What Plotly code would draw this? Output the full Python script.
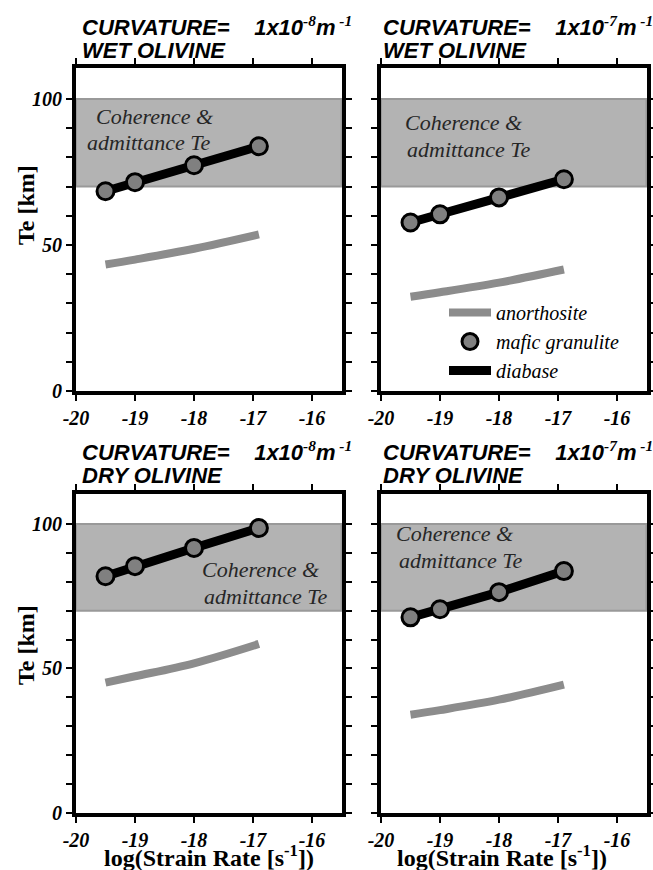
import plotly.graph_objects as go

W, H = 653, 870

# ---------------- data ----------------
strain_rate = [-19.5, -19.0, -18.0, -16.9]
x_ticks = [-20, -19, -18, -17, -16]
y_ticks = [0, 10, 20, 30, 40, 50, 60, 70, 80, 90, 100]
y_ticklabels = ["0", "", "", "", "", "50", "", "", "", "", "100"]

diabase_wet_e8 = [68.4, 71.5, 77.3, 83.8]
diabase_wet_e7 = [57.7, 60.5, 66.3, 72.5]
diabase_dry_e8 = [81.9, 85.4, 91.7, 98.6]
diabase_dry_e7 = [67.7, 70.5, 76.4, 83.7]

anorth_wet_e8 = [43.3, 45.0, 48.7, 53.6]
anorth_wet_e7 = [32.3, 33.8, 37.1, 41.6]
anorth_dry_e8 = [45.1, 47.3, 51.8, 58.5]
anorth_dry_e7 = [34.0, 35.6, 39.2, 44.4]

te_band = [70, 100]  # coherence & admittance Te range

panels = [
    dict(exp="-8", olivine="WET OLIVINE", dia=diabase_wet_e8, ano=anorth_wet_e8),
    dict(exp="-7", olivine="WET OLIVINE", dia=diabase_wet_e7, ano=anorth_wet_e7),
    dict(exp="-8", olivine="DRY OLIVINE", dia=diabase_dry_e8, ano=anorth_dry_e8),
    dict(exp="-7", olivine="DRY OLIVINE", dia=diabase_dry_e7, ano=anorth_dry_e7),
]

# ---------------- layout geometry (pixels) ----------------
X_RANGE = [-20, -15.5]
Y_RANGE = [0, 110.5]
col_x = [(76, 341.5), (381, 646.5)]
row_y = [(68.3, 391), (493.6, 813)]
# band label line centres in pixels: (x1, y1, x2, y2)
band_text_px = [
    (155, 116.5, 148, 142),
    (464, 122.5, 468, 149),
    (261, 569.5, 265, 596.5),
    (455, 533.5, 460, 560.5),
]
title_x_px = [82, 383]
title_y_px = [(25.5, 50.0), (450.5, 475.5)]
ytitle_y_px = [205, 645]
xtitle_x_px = [209, 502]


def px_x(p):
    return p / W


def px_y(p):
    return 1 - p / H


def data_x(p, c):
    x0, x1 = col_x[c]
    return X_RANGE[0] + (p - x0) / (x1 - x0) * (X_RANGE[1] - X_RANGE[0])


def data_y(p, r):
    y0, y1 = row_y[r]
    return Y_RANGE[0] + (y1 - p) / (y1 - y0) * (Y_RANGE[1] - Y_RANGE[0])


SERIF = "Liberation Serif"
SANS = "Liberation Sans"

fig = go.Figure()
layout = dict(
    width=W, height=H, margin=dict(l=0, r=0, t=0, b=0, autoexpand=False),
    plot_bgcolor="white", paper_bgcolor="white",
    showlegend=True,
    shapes=[], annotations=[],
)

for i, p in enumerate(panels):
    r, c = divmod(i, 2)
    xa = "x" if i == 0 else f"x{i+1}"
    ya = "y" if i == 0 else f"y{i+1}"
    xkey = "xaxis" if i == 0 else f"xaxis{i+1}"
    ykey = "yaxis" if i == 0 else f"yaxis{i+1}"
    x0, x1 = col_x[c]
    y0, y1 = row_y[r]
    tickfont = dict(family=SERIF, size=20, color="black", weight="bold", style="italic")
    layout[xkey] = dict(
        domain=[px_x(x0), px_x(x1)], anchor=ya, range=X_RANGE, automargin=False,
        tickvals=x_ticks, ticktext=[str(v) for v in x_ticks],
        ticks="outside", ticklen=6, tickwidth=2, tickcolor="black",
        showline=True, linewidth=4, linecolor="black", mirror="ticks",
        showgrid=False, zeroline=False, tickfont=tickfont,
    )
    layout[ykey] = dict(
        domain=[px_y(y1), px_y(y0)], anchor=xa, range=Y_RANGE, automargin=False,
        tickvals=y_ticks,
        ticktext=y_ticklabels if c == 0 else [""] * len(y_ticks),
        ticks="outside", ticklen=6, tickwidth=2, tickcolor="black",
        showline=True, linewidth=4, linecolor="black", mirror="ticks",
        showgrid=False, zeroline=False, tickfont=tickfont,
    )
    # Te band
    layout["shapes"].append(dict(
        type="rect", xref=f"{xa} domain", yref=ya, x0=0, x1=1,
        y0=te_band[0], y1=te_band[1], fillcolor="#b3b3b3",
        line=dict(color="#999999", width=2), layer="below",
    ))
    show = (i == 1)
    fig.add_trace(go.Scatter(
        x=strain_rate, y=p["ano"], mode="lines",
        line=dict(color="#8c8c8c", width=8, shape="spline"),
        xaxis=xa, yaxis=ya, name="anorthosite", showlegend=show, legendrank=1,
    ))
    fig.add_trace(go.Scatter(
        x=strain_rate, y=p["dia"], mode="lines", line=dict(color="black", width=9),
        xaxis=xa, yaxis=ya, name="diabase", showlegend=show, legendrank=3,
    ))
    fig.add_trace(go.Scatter(
        x=strain_rate, y=p["dia"], mode="markers",
        marker=dict(color="#808080", size=17, line=dict(color="black", width=3)),
        xaxis=xa, yaxis=ya, name="mafic granulite", showlegend=show, legendrank=2,
    ))
    # band label (two lines)
    bx1, by1, bx2, by2 = band_text_px[i]
    for tx, ty, txt in [(bx1, by1, "Coherence &amp;"), (bx2, by2, "admittance Te")]:
        layout["annotations"].append(dict(
            xref=xa, yref=ya, x=data_x(tx, c), y=data_y(ty, r), showarrow=False,
            xanchor="center", yanchor="middle", text=txt,
            font=dict(family=SERIF, size=22, color="#262626", style="italic"),
        ))
    # panel title (two lines)
    ty1, ty2 = title_y_px[r]
    sup = '<span style="font-family:Liberation Serif">'
    layout["annotations"].append(dict(
        xref="paper", yref="paper", x=px_x(title_x_px[c] - 2), y=px_y(ty1),
        xanchor="left", yanchor="middle", showarrow=False,
        text=(f"CURVATURE=&nbsp;&nbsp;&nbsp; 1x10<sup>{sup}{p['exp']}</span></sup>"
              f"m<sup>{sup}&nbsp;-1</span></sup>"),
        font=dict(family=SANS, size=22, color="black", weight="bold", style="italic"),
    ))
    layout["annotations"].append(dict(
        xref="paper", yref="paper", x=px_x(title_x_px[c] - 2), y=px_y(ty2),
        xanchor="left", yanchor="middle", showarrow=False,
        text=p["olivine"],
        font=dict(family=SANS, size=22, color="black", weight="bold", style="italic"),
    ))
    if c == 0:
        layout["annotations"].append(dict(
            xref="paper", yref="paper", x=px_x(26), y=px_y(ytitle_y_px[r]),
            xanchor="center", yanchor="middle",
            showarrow=False, textangle=-90, text="Te [km]",
            font=dict(family=SERIF, size=24, color="black", weight="bold"),
        ))
    if r == 1:
        layout["annotations"].append(dict(
            xref="paper", yref="paper", x=px_x(xtitle_x_px[c]), y=px_y(856),
            xanchor="center", yanchor="middle",
            showarrow=False, text="log(Strain Rate [s<sup>-1</sup>])",
            font=dict(family=SERIF, size=24, color="black", weight="bold"),
        ))

layout["legend"] = dict(
    x=px_x(444), y=px_y(293), xanchor="left", yanchor="top",
    bgcolor="rgba(0,0,0,0)", traceorder="normal", tracegroupgap=0,
    itemwidth=42,
    font=dict(family=SERIF, size=20, color="black", style="italic"),
)

fig.update_layout(**layout)
fig.write_html("out.html", config={"displayModeBar": False},
               post_script="document.body.style.margin='0';")
